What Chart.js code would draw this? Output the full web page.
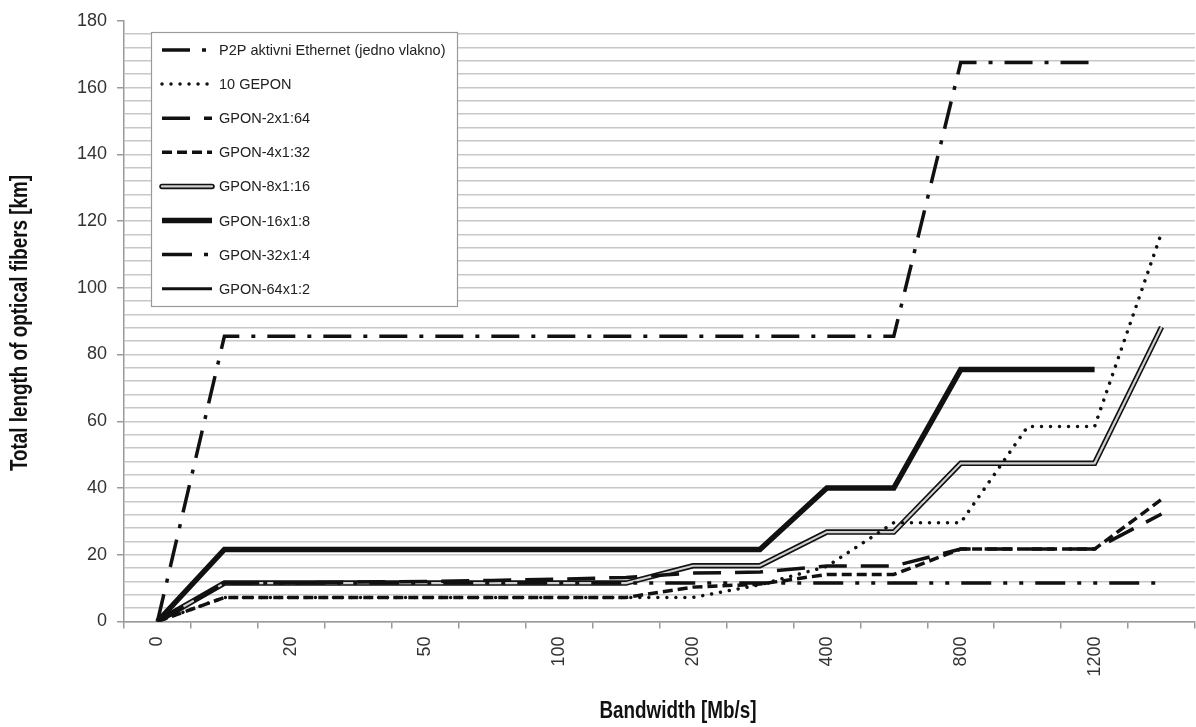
<!DOCTYPE html>
<html>
<head>
<meta charset="utf-8">
<title>Total length of optical fibers vs bandwidth</title>
<script src="https://cdn.jsdelivr.net/npm/chart.js@4.4.1/dist/chart.umd.min.js"></script>
<style>
  html, body { margin: 0; padding: 0; background: #fff; }
  #wrap { width: 1196px; height: 727px; position: relative; }
</style>
</head>
<body>
<div id="wrap"><canvas id="chart"></canvas></div>
<script>
/* ── DATA ── */
const bandwidth  = ['0', '', '20', '', '50', '', '100', '', '200', '', '400', '', '800', '', '1200', ''];

const p2p        = [0, 85.5, 85.5, 85.5, 85.5, 85.5, 85.5, 85.5, 85.5, 85.5, 85.5, 85.5, 167.5, 167.5, 167.5, null];
const gepon10    = [0, 7.2, 7.2, 7.2, 7.2, 7.2, 7.2, 7.2, 7.2, 11, 16.5, 29.6, 29.6, 58.4, 58.4, 116.5];
const gpon2x64   = [0, 11.5, 11.6, 11.8, 12, 12.3, 12.7, 13.2, 14.5, 14.8, 16.6, 16.6, 21.7, 21.7, 21.7, 32.2];
const gpon4x32   = [0, 7.2, 7.2, 7.2, 7.2, 7.2, 7.2, 7.2, 10.3, 11.2, 14.1, 14.1, 21.7, 21.7, 21.7, 36.6];
const gpon8x16   = [0, 11.5, 11.5, 11.5, 11.5, 11.5, 11.5, 11.5, 16.7, 16.7, 26.8, 26.8, 47.4, 47.4, 47.4, 88.2];
const gpon16x8   = [0, 21.6, 21.6, 21.6, 21.6, 21.6, 21.6, 21.6, 21.6, 21.6, 40, 40, 75.5, 75.5, 75.5, null];
const gpon32x4   = [0, 11.5, 11.5, 11.5, 11.5, 11.5, 11.5, 11.5, 11.5, 11.5, 11.5, 11.5, 11.5, 11.5, 11.5, 11.5];
const gpon64x2   = [0, 11.5, 11.5, 11.5, 11.5, 11.5, 11.5, 11.5, 16.7, 16.7, 26.8, 26.8, 47.4, 47.4, 47.4, 88.2];

/* ── STYLE ── */
const INK        = '#111';
const GRID       = '#c8c8c8';
const AXIS       = '#9a9a9a';
const TICK_FONT  = { family: "'Liberation Sans', Arial, sans-serif", size: 18 };
const TITLE_FONT = "bold 23px 'Liberation Sans', Arial, sans-serif";
const NARROW     = 0.82;   /* squeeze the bold titles like Arial Narrow */

function line(label, data, width, dash, order, extra) {
  return Object.assign({
    label, data,
    borderColor: INK,
    borderWidth: width,
    borderDash: dash,
    borderCapStyle: 'butt',
    borderJoinStyle: 'miter',
    pointRadius: 0,
    pointHoverRadius: 0,
    tension: 0,
    fill: false,
    order
  }, extra || {});
}

/* legend order = dataset order; draw order set by `order` (lower = on top) */
const datasets = [
  line('P2P aktivni Ethernet (jedno vlakno)', p2p, 3.5, [28, 12, 4, 12], 5),
  line('10 GEPON', gepon10, 3.5, [0.01, 9], 3, { borderCapStyle: 'round' }),
  line('GPON-2x1:64', gpon2x64, 3.5, [28, 14], 1),
  line('GPON-4x1:32', gpon4x32, 3.5, [10, 5], 2),
  line('GPON-8x1:16', gpon8x16, 5.5, [], 7, { innerColor: '#cfcfcf', innerWidth: 2.2 }),
  line('GPON-16x1:8', gpon16x8, 5.5, [], 0),
  line('GPON-32x1:4', gpon32x4, 3.5, [30, 12, 4, 12, 4, 12], 4),
  line('GPON-64x1:2', gpon64x2, 3, [], 8),
  /* inner stroke of the double line, not in legend */
  line('', gpon8x16, 2.2, [], 6, { borderColor: '#cfcfcf', inner: true })
];

/* ═══════════════════════════════════════════════
   LEGEND + AXIS TITLES (drawn on the canvas)
═══════════════════════════════════════════════ */
const overlay = {
  id: 'overlay',
  afterDraw(chart) {
    const ctx = chart.ctx;
    const box = { x: 151, y: 32, w: 306, h: 274 };

    ctx.save();
    ctx.fillStyle = '#fff';
    ctx.fillRect(box.x, box.y, box.w, box.h);
    ctx.strokeStyle = '#9a9a9a';
    ctx.lineWidth = 1.2;
    ctx.strokeRect(box.x + 0.5, box.y + 0.5, box.w, box.h);

    const items = chart.data.datasets.filter(d => !d.inner);
    ctx.font = "14.5px 'Liberation Sans', Arial, sans-serif";
    ctx.textBaseline = 'middle';
    items.forEach((d, i) => {
      const y = 50 + i * 34.1;
      ctx.beginPath();
      ctx.moveTo(162, y);
      ctx.lineTo(212, y);
      ctx.strokeStyle = d.borderColor;
      ctx.lineWidth = d.borderWidth;
      ctx.setLineDash(d.borderDash);
      ctx.lineCap = d.innerColor ? 'round' : d.borderCapStyle;
      ctx.stroke();
      if (d.innerColor) {
        ctx.strokeStyle = d.innerColor;
        ctx.lineWidth = d.innerWidth;
        ctx.stroke();
      }
      ctx.setLineDash([]);
      ctx.fillStyle = '#222';
      ctx.fillText(d.label, 219, y + 1);
    });

    /* axis titles */
    ctx.fillStyle = '#111';
    ctx.font = TITLE_FONT;
    ctx.textAlign = 'center';
    ctx.textBaseline = 'middle';

    ctx.save();
    ctx.translate(678, 712);
    ctx.scale(NARROW, 1);
    ctx.fillText('Bandwidth [Mb/s]', 0, 0);
    ctx.restore();

    ctx.translate(21, 323);
    ctx.rotate(-Math.PI / 2);
    ctx.scale(NARROW, 1);
    ctx.fillText('Total length of optical fibers [km]', 0, 0);
    ctx.restore();
  }
};

/* ═══════════════════════════════════════════════
   CHART
═══════════════════════════════════════════════ */
new Chart(document.getElementById('chart').getContext('2d'), {
  type: 'line',
  data: { labels: bandwidth, datasets },
  options: {
    responsive: true,
    maintainAspectRatio: false,
    animation: false,
    layout: { padding: { top: 17, right: 1, left: 0, bottom: 0 } },
    plugins: { legend: { display: false }, tooltip: { enabled: false } },
    scales: {
      x: {
        type: 'category',
        offset: true,
        afterFit: s => { s.height = 105.5; },
        border: { color: AXIS, width: 1.5 },
        grid: { offset: true, drawOnChartArea: false, drawTicks: true, tickLength: 7, color: AXIS, lineWidth: 1.5 },
        ticks: { autoSkip: false, maxRotation: 90, minRotation: 90, padding: 8, color: '#333', font: TICK_FONT }
      },
      y: {
        min: 0,
        max: 180,
        afterFit: s => { s.width = 124; },
        border: { color: AXIS, width: 1.5 },
        grid: {
          color: c => (c.tick && c.tick.value === 180 ? 'rgba(0,0,0,0)' : GRID),
          tickColor: c => (c.tick && c.tick.value % 20 === 0 ? AXIS : 'rgba(0,0,0,0)'),
          lineWidth: 1.5,
          tickLength: 7
        },
        ticks: {
          stepSize: 4,
          autoSkip: false,
          padding: 10,
          color: '#333',
          font: TICK_FONT,
          callback: v => (v % 20 === 0 ? v : '')
        }
      }
    }
  },
  plugins: [overlay]
});
</script>
</body>
</html>
